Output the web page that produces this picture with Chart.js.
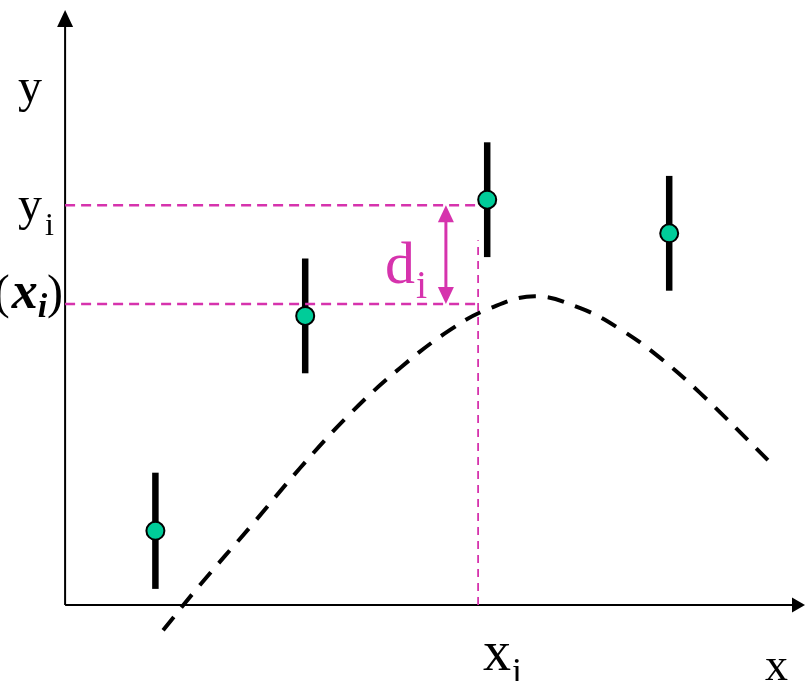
<!DOCTYPE html>
<html lang="en">
<head>
<meta charset="UTF-8">
<title>Fit residual</title>
<style>
  body { margin: 0; background: #fff; }
  #grafico { display: block; }
</style>
</head>
<body>
<canvas id="grafico" width="805" height="681"></canvas>
<script src="https://cdn.jsdelivr.net/npm/chart.js"></script>
<script>
// measured points with their error bars
const pontosX = [1.29, 3.43, 6.03, 8.63]
const pontosY = [1.06, 4.13, 5.79, 5.31]
const erros = [0.83, 0.82, 0.82, 0.82]

// model curve f(x)
const curvaX = [1.40, 1.93, 2.64, 3.36, 4.07, 4.79, 5.50, 6.07, 6.71, 7.36, 7.93, 8.50, 9.07, 10.04]
const curvaY = [-0.36, 0.29, 1.11, 1.96, 2.73, 3.39, 3.93, 4.24, 4.41, 4.24, 3.94, 3.53, 3.03, 2.07]

// the point x_i, its value y_i and the model value f(x_i)
const xi = 5.9
const yi = 5.71
const fxi = 4.30
const guiaTopo = 5.21
const setaX = 5.44

// visible range (axes meet at 0,0)
const X_MIN = -0.93, X_MAX = 10.57
const Y_MIN = -1.086, Y_MAX = 8.643
const Y_EIXO_FIM = 8.5

const MAGENTA = '#d633ad'
const VERDE = '#00cc99'
const SERIF = '"Liberation Serif", "DejaVu Serif", serif'

const desenho = {
  id: 'desenho',
  beforeDatasetsDraw(chart) {
    const { ctx, scales: { x, y } } = chart
    const x0 = x.getPixelForValue(0), y0 = y.getPixelForValue(0)
    const xFim = x.getPixelForValue(X_MAX), yFim = y.getPixelForValue(Y_EIXO_FIM)
    ctx.save()
    ctx.strokeStyle = '#000'
    ctx.fillStyle = '#000'
    ctx.lineWidth = 2
    ctx.beginPath()
    ctx.moveTo(x0, y0); ctx.lineTo(xFim - 10, y0)
    ctx.moveTo(x0, y0); ctx.lineTo(x0, yFim + 10)
    ctx.stroke()
    // arrow heads
    ctx.beginPath()
    ctx.moveTo(xFim, y0); ctx.lineTo(xFim - 13, y0 - 7.5); ctx.lineTo(xFim - 13, y0 + 7.5)
    ctx.closePath(); ctx.fill()
    ctx.beginPath()
    ctx.moveTo(x0, yFim); ctx.lineTo(x0 - 8, yFim + 17); ctx.lineTo(x0 + 8, yFim + 17)
    ctx.closePath(); ctx.fill()
    ctx.restore()
  },
  afterDatasetsDraw(chart) {
    const { ctx, scales: { x, y } } = chart
    const x0 = x.getPixelForValue(0), y0 = y.getPixelForValue(0)
    const yFim = y.getPixelForValue(Y_EIXO_FIM)
    const pYi = y.getPixelForValue(yi), pFx = y.getPixelForValue(fxi)
    const pXi = x.getPixelForValue(xi), pSeta = x.getPixelForValue(setaX)
    ctx.save()

    // double arrow d_i
    ctx.strokeStyle = MAGENTA
    ctx.fillStyle = MAGENTA
    ctx.lineWidth = 3
    ctx.beginPath()
    ctx.moveTo(pSeta, pYi + 12); ctx.lineTo(pSeta, pFx - 12)
    ctx.stroke()
    ctx.beginPath()
    ctx.moveTo(pSeta, pYi); ctx.lineTo(pSeta - 8, pYi + 17); ctx.lineTo(pSeta + 8, pYi + 17)
    ctx.closePath(); ctx.fill()
    ctx.beginPath()
    ctx.moveTo(pSeta, pFx); ctx.lineTo(pSeta - 8, pFx - 17); ctx.lineTo(pSeta + 8, pFx - 17)
    ctx.closePath(); ctx.fill()

    ctx.textAlign = 'left'
    ctx.textBaseline = 'alphabetic'

    // d_i
    ctx.font = '60px ' + SERIF
    ctx.fillText('d', pSeta - 61, pFx - 21)
    let w = ctx.measureText('d').width
    ctx.font = '40px ' + SERIF
    ctx.fillText('i', pSeta - 61 + w + 1, pFx - 6)

    ctx.fillStyle = '#000'

    // axis titles
    ctx.font = '48px ' + SERIF
    ctx.fillText('y', x0 - 47, yFim + 92)
    ctx.font = '46px ' + SERIF
    ctx.fillText('x', x.getPixelForValue(X_MAX) - 40, y0 + 75)

    // y_i
    ctx.font = '48px ' + SERIF
    ctx.fillText('y', x0 - 47, pYi + 15)
    w = ctx.measureText('y').width
    ctx.font = '32px ' + SERIF
    ctx.fillText('i', x0 - 47 + w + 3, pYi + 30)

    // x_i
    ctx.font = '56px ' + SERIF
    ctx.fillText('x', pXi + 5, y0 + 65)
    w = ctx.measureText('x').width
    ctx.font = '36px ' + SERIF
    ctx.fillText('i', pXi + 5 + w + 1, y0 + 78)

    // f(x_i), written right to left against the axis
    ctx.textAlign = 'right'
    let cx = x0 - 2
    const base = pFx + 4
    ctx.font = '48px ' + SERIF
    ctx.fillText(')', cx, base)
    cx -= ctx.measureText(')').width
    ctx.font = 'italic bold 34px ' + SERIF
    ctx.fillText('i', cx, base + 9)
    cx -= ctx.measureText('i').width
    ctx.font = 'italic bold 52px ' + SERIF
    ctx.fillText('x', cx, base)
    cx -= ctx.measureText('x').width + 2
    ctx.font = '48px ' + SERIF
    ctx.fillText('(', cx, base)
    cx -= ctx.measureText('(').width
    ctx.font = 'italic 48px ' + SERIF
    ctx.fillText('f', cx, base)

    ctx.restore()
  }
}

const guia = (dados, largura, traco) => ({
  type: 'line',
  data: dados,
  borderColor: MAGENTA,
  borderWidth: largura,
  borderDash: traco,
  pointRadius: 0,
  order: 1
})

const barras = pontosX.map((px, i) => ({
  type: 'line',
  data: [{ x: px, y: pontosY[i] - erros[i] }, { x: px, y: pontosY[i] + erros[i] }],
  borderColor: '#000',
  borderWidth: 6.5,
  borderCapStyle: 'butt',
  pointRadius: 0,
  order: 2
}))

const grafico = new Chart(document.getElementById('grafico'), {
  type: 'scatter',
  data: {
    datasets: [
      {
        label: 'pontos',
        data: pontosX.map((px, i) => ({ x: px, y: pontosY[i] })),
        pointRadius: 9,
        pointBackgroundColor: VERDE,
        pointBorderColor: '#000',
        pointBorderWidth: 2,
        order: 0
      },
      guia([{ x: 0, y: yi }, { x: xi, y: yi }], 2.5, [10, 6]),
      guia([{ x: 0, y: fxi }, { x: xi, y: fxi }], 2.5, [10, 6]),
      guia([{ x: xi, y: 0 }, { x: xi, y: guiaTopo }], 1.8, [8, 6]),
      ...barras,
      {
        type: 'line',
        label: 'f(x)',
        data: curvaX.map((cx, i) => ({ x: cx, y: curvaY[i] })),
        borderColor: '#000',
        borderWidth: 4,
        borderDash: [17, 12],
        tension: 0.4,
        pointRadius: 0,
        order: 3
      }
    ]
  },
  options: {
    responsive: false,
    animation: false,
    devicePixelRatio: 1,
    layout: { padding: 0, autoPadding: false },
    plugins: { legend: { display: false }, tooltip: { enabled: false } },
    scales: {
      x: { type: 'linear', min: X_MIN, max: X_MAX, display: false },
      y: { type: 'linear', min: Y_MIN, max: Y_MAX, display: false }
    }
  },
  plugins: [desenho]
})
</script>
</body>
</html>
